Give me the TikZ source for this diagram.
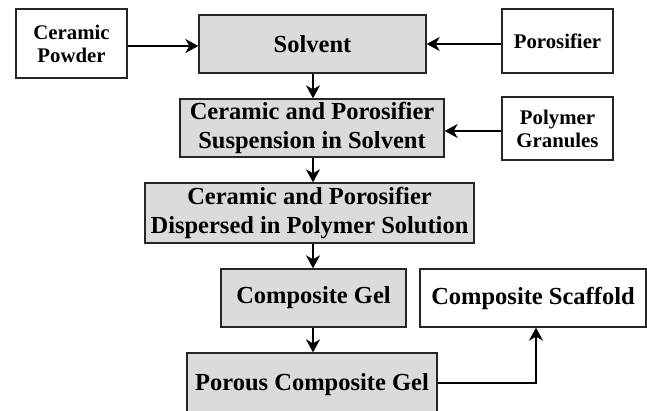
\documentclass[tikz,border=0pt]{standalone}
\usepackage{fontspec}
\setmainfont{Liberation Serif}
\usetikzlibrary{arrows.meta}
\begin{document}
\begin{tikzpicture}[x=1pt,y=-1pt,
  box/.style={draw=black!85,line width=1.3pt,inner sep=0pt,align=center,font=\fontsize{24.5}{28.5}\selectfont\bfseries},
  mainbox/.style={box,fill=black!14},
  sidebox/.style={box,fill=white,font=\fontsize{20.8}{23}\selectfont\bfseries},
  arr/.style={line width=1.5pt,-{Stealth[length=13pt,width=14pt,inset=4pt]}}]
\useasboundingbox (0,0) rectangle (647,410);
\begin{scope}
\clip (0,0) rectangle (647,410);
\node[sidebox,minimum width=111pt,minimum height=69pt] (cp) at (71.5,43.5) {Ceramic\\Powder};
\node[mainbox,minimum width=227pt,minimum height=58pt] (sol) at (312.5,44) {Solvent};
\node[sidebox,minimum width=111pt,minimum height=64pt] (por) at (557.5,41) {Porosifier};
\node[mainbox,minimum width=264pt,minimum height=58pt] (sus) at (312,128) {Ceramic and Porosifier\\Suspension in Solvent};
\node[sidebox,minimum width=111pt,minimum height=63pt] (pg) at (557.5,128.5) {Polymer\\Granules};
\node[mainbox,minimum width=329pt,minimum height=60pt] (dis) at (309.5,213) {Ceramic and Porosifier\\Dispersed in Polymer Solution};
\node[mainbox,minimum width=185pt,minimum height=58pt] (cg) at (313.5,298) {Composite Gel};
\node[sidebox,font=\fontsize{24.5}{28.5}\selectfont\bfseries,minimum width=226pt,minimum height=58pt] (cs) at (533,298) {Composite Scaffold};
\node[mainbox,minimum width=250pt,minimum height=64pt] (pcg) at (312,385) {Porous Composite Gel};
\end{scope}
\coordinate (vx) at (313,0);
\draw[arr] (cp.east |- 0,46) -- (sol.west |- 0,46);
\draw[arr] (por.west |- 0,44) -- (sol.east |- 0,44);
\draw[arr] (sol.south -| vx) -- (sus.north -| vx);
\draw[arr] (pg.west |- 0,131) -- (sus.east |- 0,131);
\draw[arr] (sus.south -| vx) -- (dis.north -| vx);
\draw[arr] (dis.south -| vx) -- (cg.north -| vx);
\draw[arr] (cg.south -| vx) -- (pcg.north -| vx);
\coordinate (bend) at (536,383);
\draw[arr] (pcg.east |- bend) -- (bend) -- (cs.south -| bend);
\end{tikzpicture}
\end{document}
